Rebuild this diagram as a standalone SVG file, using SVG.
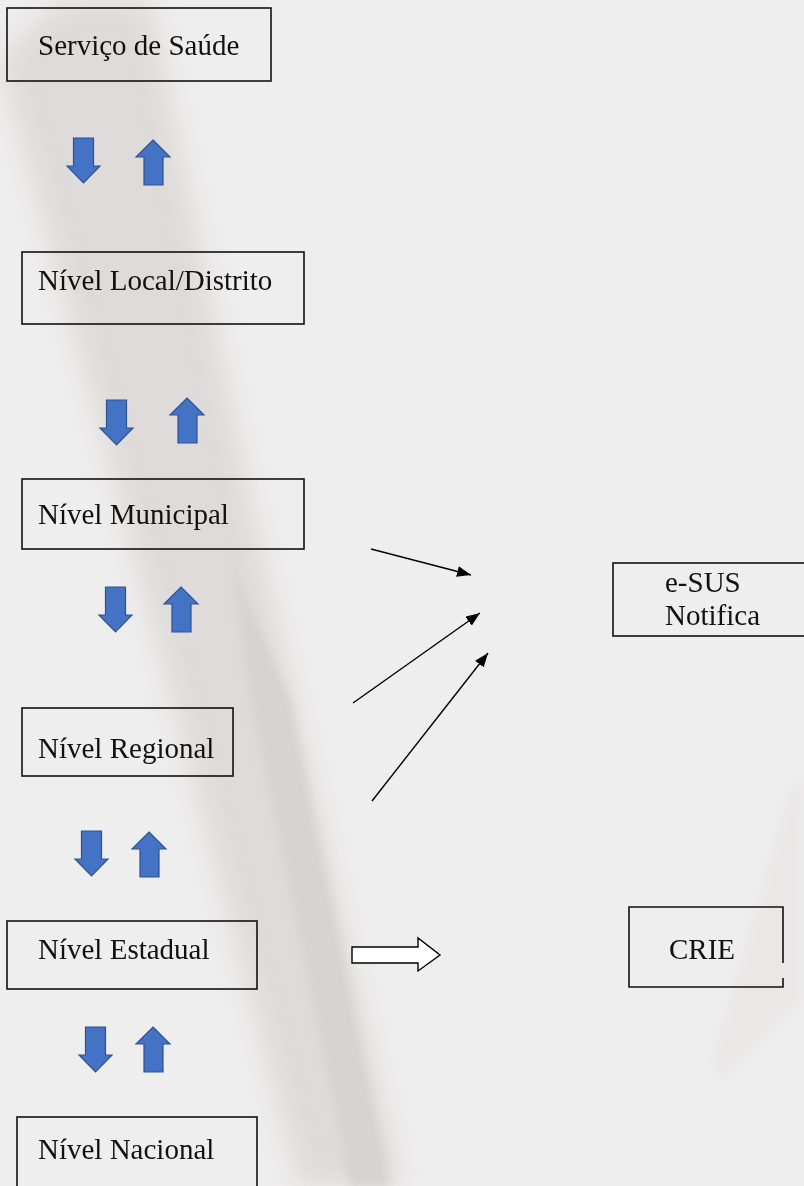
<svg xmlns="http://www.w3.org/2000/svg" width="804" height="1186" viewBox="0 0 804 1186">
<defs>
<style>
.box{fill:none;stroke:#111;stroke-width:1.6}
.t{font-family:"Liberation Serif","Times New Roman",serif;font-size:29px;fill:#111}
.blue{fill:#4472c4;stroke:#2f528f;stroke-width:1.2}
.con{stroke:#000;stroke-width:1.4;fill:none}
</style>
<filter id="blur" x="-50%" y="-50%" width="200%" height="200%"><feGaussianBlur stdDeviation="14"/></filter>
<filter id="blur2" x="-50%" y="-50%" width="200%" height="200%"><feGaussianBlur stdDeviation="5"/></filter>
<path id="down" d="M6.5,0 H26.5 V28 H33 L16.5,45 L0,28 H6.5 Z"/>
<path id="up" d="M17,0 L34,17 H27 V45 H8 V17 H0 Z"/>
<marker id="ah" viewBox="0 0 14 11" refX="14" refY="5.5" markerWidth="14" markerHeight="11" markerUnits="userSpaceOnUse" orient="auto"><path d="M0,0 L14,5.5 L0,11 Z" fill="#000"/></marker>
</defs>
<rect width="804" height="1186" fill="#efeeee"/>
<g id="background" opacity="0.45">
<path d="M0,60 L60,0 L150,0 L250,500 L400,1186 L300,1186 L120,500 Z" fill="#c9c3c0" filter="url(#blur)"/>
<path d="M230,560 L290,700 L390,1186 L350,1186 L250,700 Z" fill="#b8b1ae" filter="url(#blur2)"/>
<path d="M790,790 L804,780 L804,1000 L720,1080 L712,1060 Z" fill="#dcd9d8" opacity="0.6" filter="url(#blur2)"/>
</g>
<g id="n-servico"><rect class="box" x="7" y="8" width="264" height="73"/><text class="t" x="38" y="55">Serviço de Saúde</text></g>
<g id="n-local"><rect class="box" x="22" y="252" width="282" height="72"/><text class="t" x="38" y="290">Nível Local/Distrito</text></g>
<g id="n-municipal"><rect class="box" x="22" y="479" width="282" height="70"/><text class="t" x="38" y="524">Nível Municipal</text></g>
<g id="n-regional"><rect class="box" x="22" y="708" width="211" height="68"/><text class="t" x="38" y="758">Nível Regional</text></g>
<g id="n-estadual"><rect class="box" x="7" y="921" width="250" height="68"/><text class="t" x="38" y="959">Nível Estadual</text></g>
<g id="n-nacional"><rect class="box" x="17" y="1117" width="240" height="80"/><text class="t" x="38" y="1159">Nível Nacional</text></g>
<g id="n-esus"><rect class="box" x="613" y="563" width="200" height="73"/><text class="t" x="665" y="592">e-SUS</text><text class="t" x="665" y="625">Notifica</text></g>
<g id="n-crie"><path class="box" d="M783,963 V907 H629 V987 H783 V978"/><text class="t" x="669" y="959">CRIE</text></g>
<g id="connectors">
<use href="#down" class="blue" x="67" y="138"/><use href="#up" class="blue" x="136" y="140"/>
<use href="#down" class="blue" x="100" y="400"/><use href="#up" class="blue" x="170" y="398"/>
<use href="#down" class="blue" x="99" y="587"/><use href="#up" class="blue" x="164" y="587"/>
<use href="#down" class="blue" x="75" y="831"/><use href="#up" class="blue" x="132" y="832"/>
<use href="#down" class="blue" x="79" y="1027"/><use href="#up" class="blue" x="136" y="1027"/>
<line class="con" x1="371" y1="549" x2="471" y2="575" marker-end="url(#ah)"/>
<line class="con" x1="353" y1="703" x2="480" y2="613" marker-end="url(#ah)"/>
<line class="con" x1="372" y1="801" x2="488" y2="653" marker-end="url(#ah)"/>
<path d="M352,947 H418 V938 L440,955 L418,971 V963 H352 Z" fill="#fff" stroke="#000" stroke-width="1.4"/>
</g>
</svg>
